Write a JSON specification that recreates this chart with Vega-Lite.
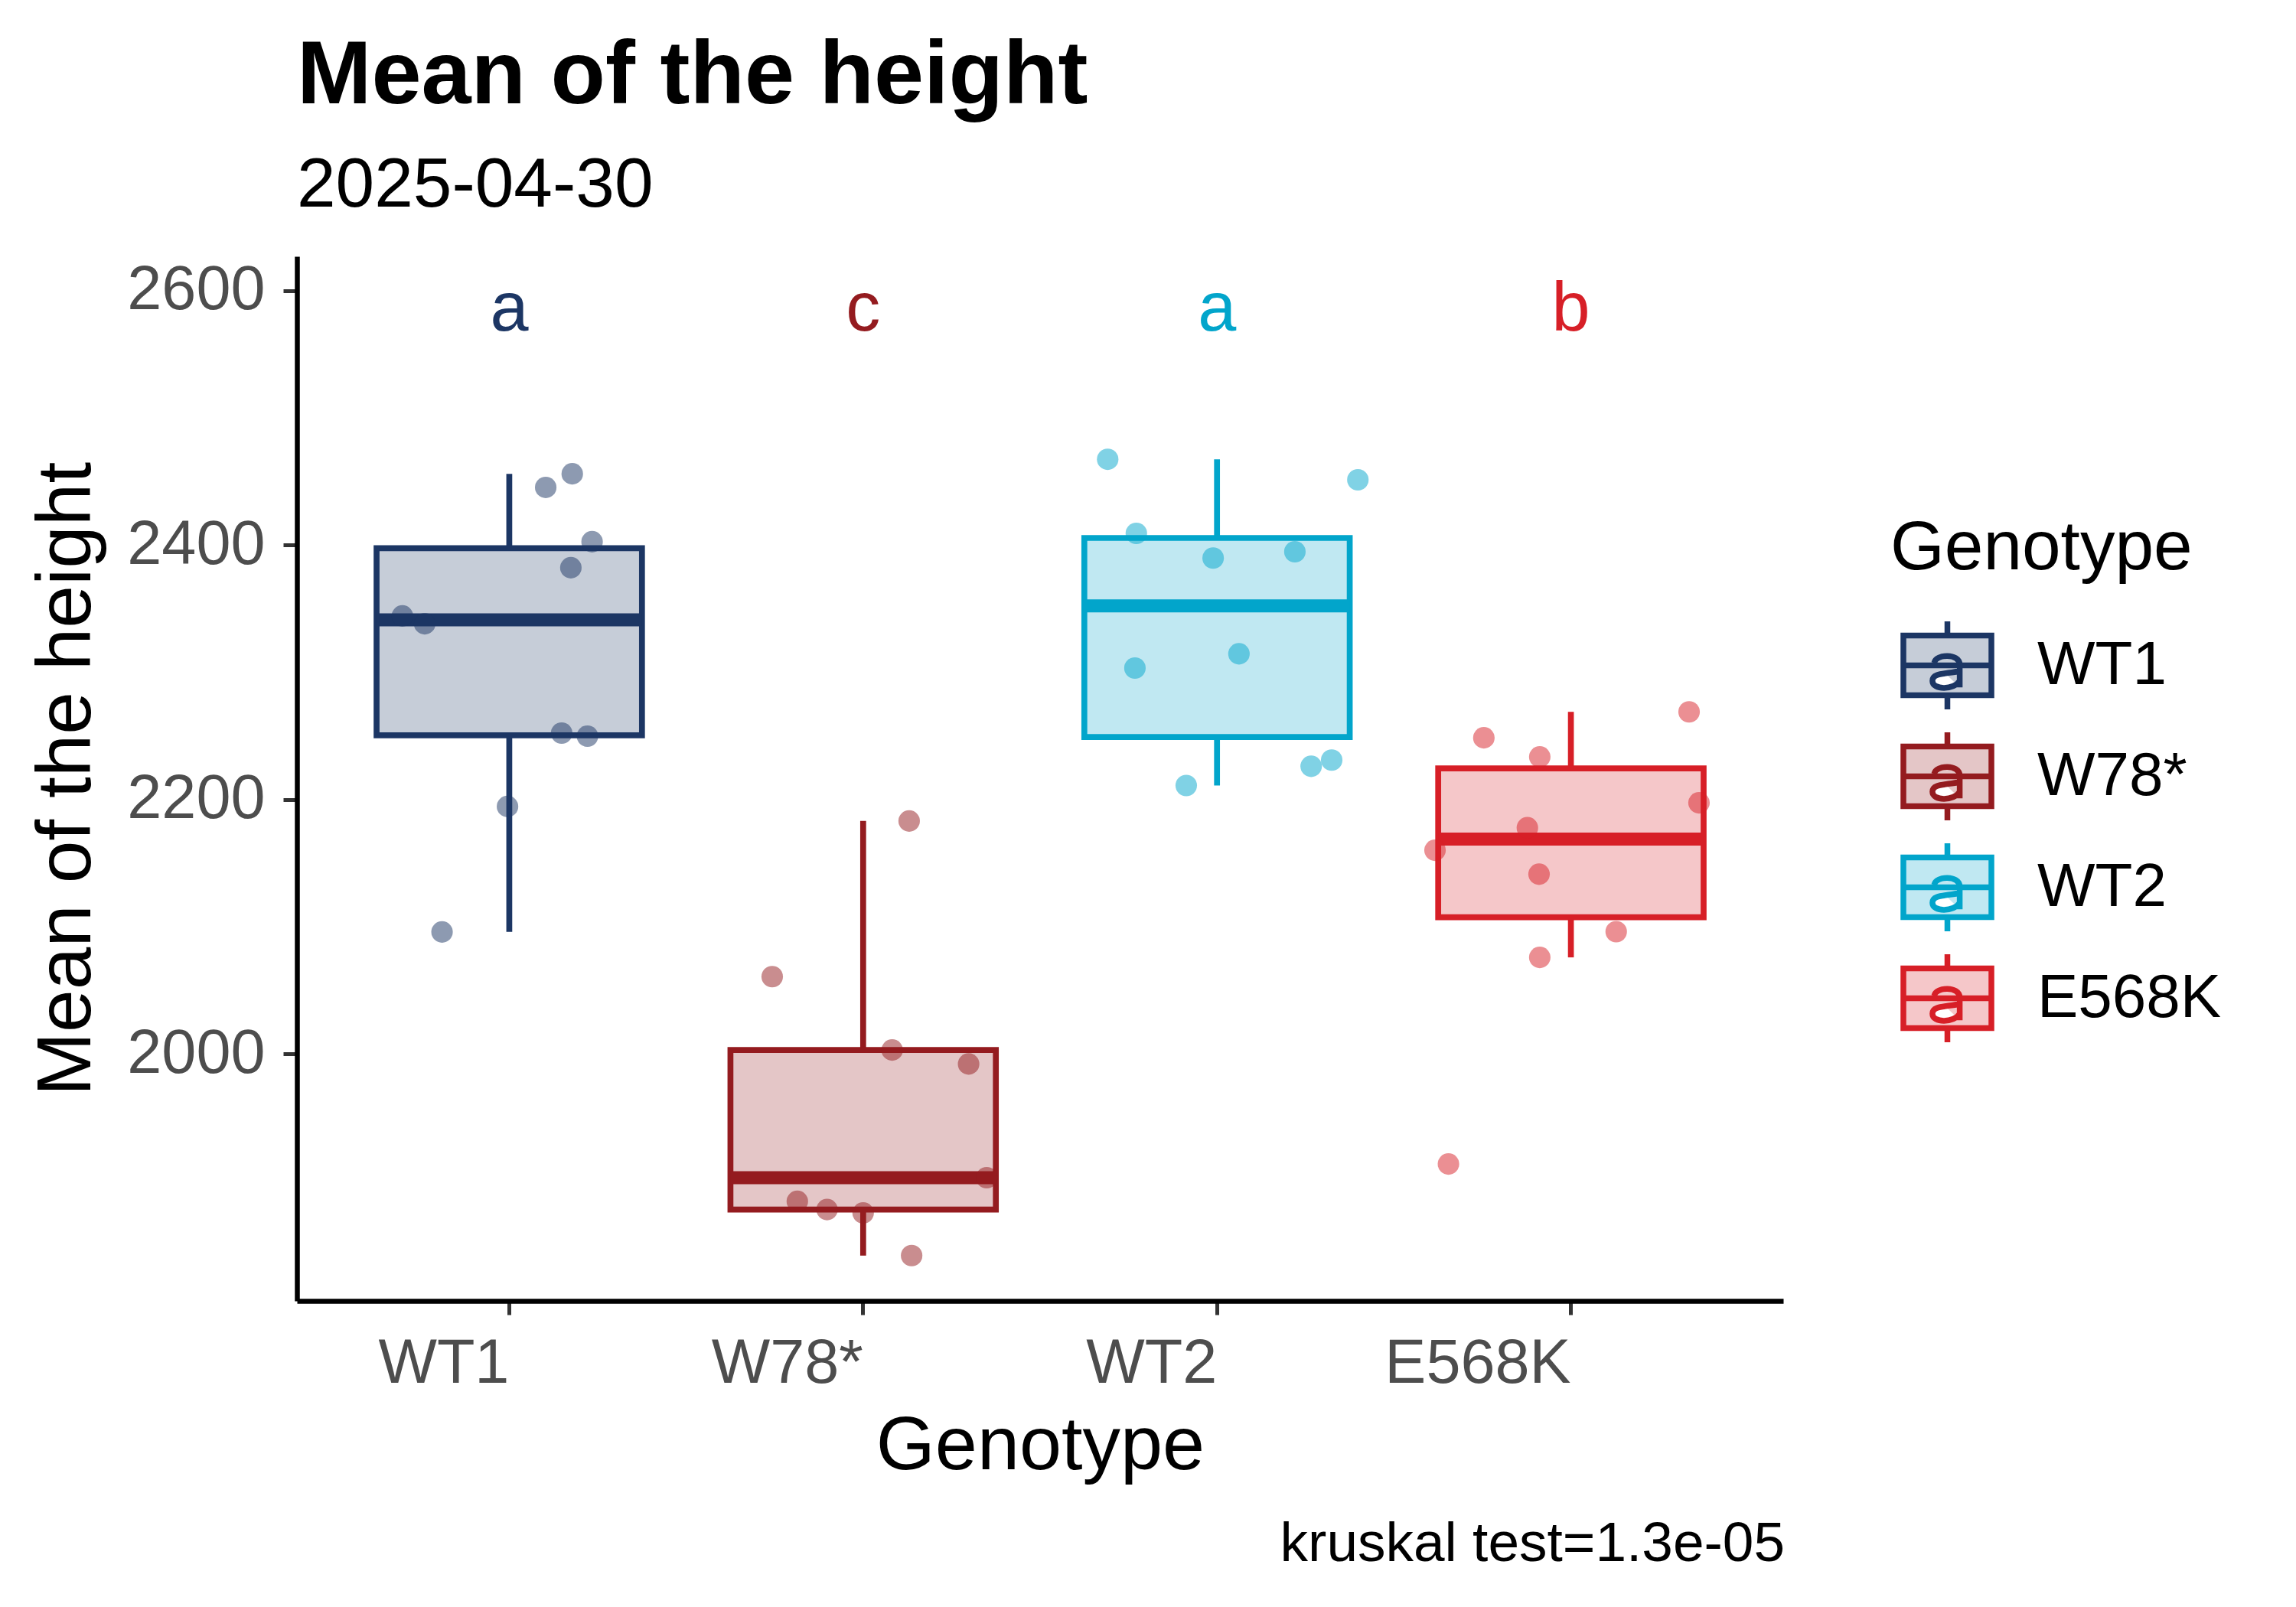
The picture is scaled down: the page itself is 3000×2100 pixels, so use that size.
{
  "$schema": "https://vega.github.io/schema/vega-lite/v6.json",
  "background": "white",
  "padding": {"left": 37, "top": 41, "right": 10, "bottom": 10},
  "config": {
    "font": "Liberation Sans",
    "view": {"stroke": null},
    "axis": {
      "grid": false,
      "domainColor": "black",
      "domainWidth": 6.5,
      "tickColor": "#333333",
      "tickWidth": 5,
      "tickSize": 18,
      "labelColor": "#4d4d4d",
      "labelFontSize": 81,
      "labelPadding": 24,
      "labelLimit": 1000,
      "titleColor": "black",
      "titleFontWeight": "normal"
    }
  },
  "title": {
    "text": "kruskal test=1.3e-05",
    "orient": "bottom",
    "anchor": "end",
    "frame": "bounds",
    "fontSize": 73,
    "fontWeight": "normal",
    "color": "black",
    "offset": 43,
    "dx": -571
  },
  "vconcat": [
    {
      "width": 1942,
      "height": 1365,
      "title": {
        "text": "Mean of the height",
        "subtitle": "2025-04-30",
        "anchor": "start",
        "frame": "group",
        "fontSize": 117,
        "fontWeight": "bold",
        "color": "black",
        "subtitleFontSize": 91,
        "subtitleColor": "black",
        "subtitlePadding": 38,
        "offset": 45
      },
      "data": {
        "values": [
          {"Genotype": "WT1", "height": 2456.1, "jitter": 0.178},
          {"Genotype": "WT1", "height": 2445.4, "jitter": 0.103},
          {"Genotype": "WT1", "height": 2402.7, "jitter": 0.234},
          {"Genotype": "WT1", "height": 2382.3, "jitter": 0.174},
          {"Genotype": "WT1", "height": 2344.4, "jitter": -0.302},
          {"Genotype": "WT1", "height": 2338.2, "jitter": -0.239},
          {"Genotype": "WT1", "height": 2252.3, "jitter": 0.148},
          {"Genotype": "WT1", "height": 2249.9, "jitter": 0.221},
          {"Genotype": "WT1", "height": 2194.6, "jitter": -0.005},
          {"Genotype": "WT1", "height": 2096.0, "jitter": -0.19},
          {"Genotype": "W78*", "height": 2183.2, "jitter": 0.13},
          {"Genotype": "W78*", "height": 2060.9, "jitter": -0.257},
          {"Genotype": "W78*", "height": 2003.2, "jitter": 0.082},
          {"Genotype": "W78*", "height": 1992.2, "jitter": 0.298},
          {"Genotype": "W78*", "height": 1902.8, "jitter": 0.349},
          {"Genotype": "W78*", "height": 1884.3, "jitter": -0.186},
          {"Genotype": "W78*", "height": 1877.8, "jitter": -0.102},
          {"Genotype": "W78*", "height": 1875.1, "jitter": 0.0},
          {"Genotype": "W78*", "height": 1841.6, "jitter": 0.137},
          {"Genotype": "WT2", "height": 2467.5, "jitter": -0.309},
          {"Genotype": "WT2", "height": 2451.4, "jitter": 0.398},
          {"Genotype": "WT2", "height": 2409.3, "jitter": -0.228},
          {"Genotype": "WT2", "height": 2389.9, "jitter": -0.011},
          {"Genotype": "WT2", "height": 2394.8, "jitter": 0.22},
          {"Genotype": "WT2", "height": 2314.6, "jitter": 0.062},
          {"Genotype": "WT2", "height": 2303.4, "jitter": -0.232},
          {"Genotype": "WT2", "height": 2231.1, "jitter": 0.324},
          {"Genotype": "WT2", "height": 2226.2, "jitter": 0.266},
          {"Genotype": "WT2", "height": 2211.1, "jitter": -0.087},
          {"Genotype": "E568K", "height": 2269.0, "jitter": 0.334},
          {"Genotype": "E568K", "height": 2248.6, "jitter": -0.246},
          {"Genotype": "E568K", "height": 2233.6, "jitter": -0.088},
          {"Genotype": "E568K", "height": 2197.5, "jitter": 0.362},
          {"Genotype": "E568K", "height": 2177.9, "jitter": -0.123},
          {"Genotype": "E568K", "height": 2160.2, "jitter": -0.384},
          {"Genotype": "E568K", "height": 2141.4, "jitter": -0.09},
          {"Genotype": "E568K", "height": 2096.2, "jitter": 0.128},
          {"Genotype": "E568K", "height": 2076.0, "jitter": -0.088},
          {"Genotype": "E568K", "height": 1913.6, "jitter": -0.346}
        ]
      },
      "resolve": {"scale": {"x": "independent", "xOffset": "independent"}, "axis": {"x": "independent"}},
      "layer": [
        {
          "transform": [
            {
              "joinaggregate": [
                {"op": "q1", "field": "height", "as": "lowerq"},
                {"op": "q3", "field": "height", "as": "upperq"},
                {"op": "median", "field": "height", "as": "mid"}
              ],
              "groupby": ["Genotype"]
            },
            {"filter": "datum.height >= datum.lowerq - 1.5 * (datum.upperq - datum.lowerq) && datum.height <= datum.upperq + 1.5 * (datum.upperq - datum.lowerq)"},
            {
              "aggregate": [
                {"op": "min", "field": "height", "as": "lower"},
                {"op": "max", "field": "height", "as": "upper"},
                {"op": "min", "field": "lowerq", "as": "q1"},
                {"op": "min", "field": "upperq", "as": "q3"},
                {"op": "min", "field": "mid", "as": "median"}
              ],
              "groupby": ["Genotype"]
            }
          ],
          "encoding": {
            "x": {
              "field": "Genotype",
              "type": "nominal",
              "sort": ["WT1", "W78*", "WT2", "E568K"],
              "scale": {"type": "band", "paddingInner": 0.25, "paddingOuter": 0.225},
              "axis": {
                "title": "Genotype",
                "labelAngle": 0,
                "labelAlign": "right",
                "labelOverlap": false,
                "titleFontSize": 99,
                "titlePadding": 19
              }
            }
          },
          "layer": [
            {
              "mark": {"type": "rule", "strokeWidth": 7.7},
              "encoding": {
                "y": {
                  "field": "lower",
                  "type": "quantitative",
                  "title": "Mean of the height",
                  "scale": {"domain": [1806, 2627], "nice": false, "zero": false},
                  "axis": {"values": [2000, 2200, 2400, 2600], "format": "d", "titleFontSize": 100, "titlePadding": 50}
                },
                "y2": {"field": "q1"},
                "stroke": {
                  "field": "Genotype",
                  "type": "nominal",
                  "scale": {"domain": ["WT1", "W78*", "WT2", "E568K"], "range": ["#1c3664", "#941b1f", "#02a5cb", "#d71f27"]}
                }
              }
            },
            {
              "mark": {"type": "rule", "strokeWidth": 7.7},
              "encoding": {
                "y": {
                  "field": "q3",
                  "type": "quantitative",
                  "title": "Mean of the height",
                  "scale": {"domain": [1806, 2627], "nice": false, "zero": false}
                },
                "y2": {"field": "upper"},
                "stroke": {
                  "field": "Genotype",
                  "type": "nominal",
                  "scale": {"domain": ["WT1", "W78*", "WT2", "E568K"], "range": ["#1c3664", "#941b1f", "#02a5cb", "#d71f27"]}
                }
              }
            },
            {
              "mark": {"type": "bar", "fillOpacity": 0.25, "strokeWidth": 7.7, "width": {"band": 1}},
              "encoding": {
                "y": {
                  "field": "q1",
                  "type": "quantitative",
                  "title": "Mean of the height",
                  "scale": {"domain": [1806, 2627], "nice": false, "zero": false}
                },
                "y2": {"field": "q3"},
                "fill": {
                  "field": "Genotype",
                  "type": "nominal",
                  "title": "Genotype",
                  "scale": {"domain": ["WT1", "W78*", "WT2", "E568K"], "range": ["#1c3664", "#941b1f", "#02a5cb", "#d71f27"]},
                  "legend": {
                    "orient": "none",
                    "legendX": 2082,
                    "legendY": 337,
                    "titleFontSize": 91,
                    "titleFontWeight": "normal",
                    "titleColor": "black",
                    "titlePadding": 45,
                    "titleLimit": 1000,
                    "labelFontSize": 80,
                    "labelColor": "black",
                    "labelOffset": 56,
                    "labelLimit": 1000,
                    "rowPadding": 0,
                    "symbolOffset": 13,
                    "symbolSize": 13225,
                    "symbolStrokeWidth": 7.5,
                    "symbolType": "M-1,-0.68H1V0.68H-1Z M0,-1V-0.68 M0,0.68V1 M-1,0H1 M-0.3,-0.06C-0.26,-0.26,0.27,-0.28,0.28,-0.02L0.28,0.5 M0.28,0.13C-0.06,0.2,-0.34,0.17,-0.34,0.35C-0.34,0.57,0.16,0.56,0.28,0.35",
                    "encode": {"symbols": {"update": {"fillOpacity": {"value": 0.25}, "opacity": {"value": 1}}}}
                  }
                },
                "stroke": {
                  "field": "Genotype",
                  "type": "nominal",
                  "title": "Genotype",
                  "scale": {"domain": ["WT1", "W78*", "WT2", "E568K"], "range": ["#1c3664", "#941b1f", "#02a5cb", "#d71f27"]},
                  "legend": {
                    "orient": "none",
                    "legendX": 2082,
                    "legendY": 337,
                    "titleFontSize": 91,
                    "titleFontWeight": "normal",
                    "titleColor": "black",
                    "titlePadding": 45,
                    "titleLimit": 1000,
                    "labelFontSize": 80,
                    "labelColor": "black",
                    "labelOffset": 56,
                    "labelLimit": 1000,
                    "rowPadding": 0,
                    "symbolOffset": 13,
                    "symbolSize": 13225,
                    "symbolStrokeWidth": 7.5,
                    "symbolType": "M-1,-0.68H1V0.68H-1Z M0,-1V-0.68 M0,0.68V1 M-1,0H1 M-0.3,-0.06C-0.26,-0.26,0.27,-0.28,0.28,-0.02L0.28,0.5 M0.28,0.13C-0.06,0.2,-0.34,0.17,-0.34,0.35C-0.34,0.57,0.16,0.56,0.28,0.35",
                    "encode": {"symbols": {"update": {"fillOpacity": {"value": 0.25}, "opacity": {"value": 1}}}}
                  }
                }
              }
            },
            {
              "mark": {"type": "tick", "orient": "horizontal", "thickness": 17, "size": 347, "opacity": 1},
              "encoding": {
                "y": {
                  "field": "median",
                  "type": "quantitative",
                  "title": "Mean of the height",
                  "scale": {"domain": [1806, 2627], "nice": false, "zero": false}
                },
                "fill": {
                  "field": "Genotype",
                  "type": "nominal",
                  "scale": {"domain": ["WT1", "W78*", "WT2", "E568K"], "range": ["#1c3664", "#941b1f", "#02a5cb", "#d71f27"]}
                }
              }
            }
          ]
        },
        {
          "mark": {"type": "circle", "size": 790, "opacity": 0.5},
          "encoding": {
            "x": {
              "field": "Genotype",
              "type": "nominal",
              "sort": ["WT1", "W78*", "WT2", "E568K"],
              "scale": {"type": "band", "paddingInner": 0.25, "paddingOuter": 0.225},
              "axis": null
            },
            "y": {
              "field": "height",
              "type": "quantitative",
              "title": "Mean of the height",
              "scale": {"domain": [1806, 2627], "nice": false, "zero": false}
            },
            "xOffset": {"field": "jitter", "type": "quantitative", "scale": {"domain": [-0.375, 0.375]}},
            "fill": {
              "field": "Genotype",
              "type": "nominal",
              "scale": {"domain": ["WT1", "W78*", "WT2", "E568K"], "range": ["#1c3664", "#941b1f", "#02a5cb", "#d71f27"]}
            }
          }
        },
        {
          "data": {
            "values": [
              {"Genotype": "WT1", "letter": "a"},
              {"Genotype": "W78*", "letter": "c"},
              {"Genotype": "WT2", "letter": "a"},
              {"Genotype": "E568K", "letter": "b"}
            ]
          },
          "mark": {"type": "text", "fontSize": 90, "baseline": "middle", "align": "center"},
          "encoding": {
            "x": {
              "field": "Genotype",
              "type": "nominal",
              "sort": ["WT1", "W78*", "WT2", "E568K"],
              "scale": {"type": "band", "paddingInner": 0.25, "paddingOuter": 0.225},
              "axis": null
            },
            "y": {"datum": 2585, "type": "quantitative", "scale": {"domain": [1806, 2627], "nice": false, "zero": false}},
            "text": {"field": "letter"},
            "fill": {
              "field": "Genotype",
              "type": "nominal",
              "scale": {"domain": ["WT1", "W78*", "WT2", "E568K"], "range": ["#1c3664", "#941b1f", "#02a5cb", "#d71f27"]}
            }
          }
        }
      ]
    }
  ]
}
